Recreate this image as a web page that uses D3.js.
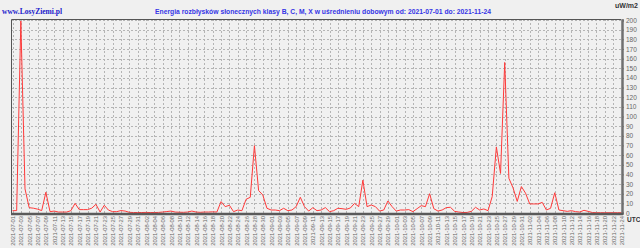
<!DOCTYPE html>
<html>
<head>
<meta charset="utf-8">
<script src="https://cdn.jsdelivr.net/npm/d3@7"></script>
<style>
  body { margin: 0; background: #f0f0f0; }
  svg { display: block; }
</style>
</head>
<body>
<div id="chart"></div>
<script>
// daily averaged flare energy, uW/m2, 2021-07-01 .. 2021-11-24
var startDay = "2021-07-01";
var endDay = "2021-11-24";
var energy = [
  2.4, 2.5, 199, 25, 5.5, 5, 4, 2.5, 21.5, 1.4,
  2, 1, 1, 1, 2.4, 10, 3.5, 3.5, 3.5, 5,
  9, 1, 8, 3, 1.4, 1.4, 2.5, 2, 0.7, 0.5,
  0.5, 0.5, 0.6, 0.5, 0.5, 0.6, 1, 1.5, 2, 1,
  0.8, 0.7, 1, 2, 1, 0.7, 1, 1, 1.2, 1,
  11.8, 6.6, 8, 1.4, 3.1, 2.4, 14.2, 16.3, 69.8, 23.3,
  18.7, 4.9, 3.1, 3.1, 2.4, 4.9, 2.4, 3.1, 6.6, 16.3,
  6.6, 2, 5.5, 2.4, 3.1, 5.6, 1.4, 2.4, 4.9, 4.5,
  3.8, 5.2, 10, 6.6, 34, 6.6, 8.3, 6.6, 2, 3.1,
  12.5, 6.6, 2, 3.1, 3.1, 3.5, 1.4, 4.5, 7.6, 6.6,
  20, 4.5, 2, 3.1, 5.6, 5.9, 1.7, 1, 0.5, 0.6,
  1.7, 5.9, 3.1, 4.2, 2.4, 17, 68.5, 41, 156, 36,
  26, 12, 27.4, 20.5, 9.4, 9.4, 9.4, 11, 3.1, 4.9,
  21, 3.1, 2.4, 1.7, 2.4, 1.4, 1, 2.8, 1.7, 0.5,
  0.3, 0.3, 0.3, 0.3, 0.3, 0.3, 0.3
];
var yTicks = d3.range(0, 201, 10);

var titleText = "Energia rozbłysków słonecznych klasy B, C, M, X w uśrednieniu dobowym od: " + startDay + " do: " + endDay;

var width = 640;
var height = 248;
var plot = { left: 11, right: 621, top: 19, bottom: 213 };

var parse = d3.timeParse("%Y-%m-%d");
var fmt = d3.timeFormat("%Y-%m-%d");
var days = d3.timeDay.range(parse(startDay), d3.timeDay.offset(parse(endDay), 1));
var labelDays = days.filter(function(d, i) { return i % 2 === 0; });

var svg = d3.select("#chart")
  .append("svg")
    .attr("width", width)
    .attr("height", height);

svg.append("rect")
  .attr("width", width)
  .attr("height", height)
  .attr("fill", "#f0f0f0");

var xScale = d3.scaleTime()
  .domain([days[0], days[days.length - 1]])
  .range([plot.left + 1.5, plot.right + 0.5]);

var yScale = d3.scaleLinear()
  .domain([0, 200])
  .range([plot.bottom, plot.top + 1]);

// grid
svg.append("g")
  .selectAll("line")
  .data(yTicks.slice(1))
  .enter().append("line")
    .attr("x1", plot.left)
    .attr("x2", plot.right)
    .attr("y1", function(d) { return Math.round(yScale(d)) + 0.5; })
    .attr("y2", function(d) { return Math.round(yScale(d)) + 0.5; })
    .attr("stroke", "#b4b4b4")
    .attr("stroke-dasharray", "2,2");

svg.append("g")
  .selectAll("line")
  .data(labelDays)
  .enter().append("line")
    .attr("x1", function(d) { return Math.round(xScale(d)) + 0.5; })
    .attr("x2", function(d) { return Math.round(xScale(d)) + 0.5; })
    .attr("y1", plot.top)
    .attr("y2", plot.bottom)
    .attr("stroke", "#b4b4b4")
    .attr("stroke-dasharray", "2,2");

// frame
svg.append("path")
  .attr("d", "M" + (plot.left + 0.5) + "," + plot.bottom + "V" + (plot.top + 0.5) + "H" + plot.right)
  .attr("fill", "none")
  .attr("stroke", "#555")
  .attr("stroke-width", 1);

// data line
var line = d3.line()
  .x(function(d, i) { return xScale(days[i]); })
  .y(function(d) { return yScale(d); });

svg.append("path")
  .datum(energy)
  .attr("fill", "none")
  .attr("stroke", "#ff3a3a")
  .attr("stroke-width", 1)
  .attr("d", line);

// right axis
var yAxis = d3.axisRight(yScale)
  .tickValues(yTicks)
  .tickSize(2)
  .tickPadding(2);

var ya = svg.append("g")
  .attr("transform", "translate(" + (plot.right + 1) + ",0)")
  .call(yAxis);
ya.select(".domain").attr("stroke", "#707070").attr("stroke-width", 2.5);
ya.selectAll(".tick line").attr("stroke", "#707070");
ya.selectAll("text")
  .attr("font-family", "Liberation Sans, Arial, sans-serif")
  .attr("font-size", "6.5px")
  .attr("fill", "#666");

// bottom axis
var xAxis = d3.axisBottom(xScale)
  .tickValues(labelDays)
  .tickFormat(fmt)
  .tickSize(0);

var xa = svg.append("g")
  .attr("transform", "translate(0," + (plot.bottom + 1) + ")")
  .call(xAxis);
xa.select(".domain").attr("stroke", "#5a5a5a").attr("stroke-width", 2.5)
  .attr("d", "M" + plot.left + ",0H" + (plot.right + 2));
xa.selectAll("text")
  .attr("font-family", "Liberation Sans, Arial, sans-serif")
  .attr("font-size", "5.8px")
  .attr("fill", "#666")
  .attr("transform", "rotate(-90)")
  .attr("text-anchor", "end")
  .attr("x", -2)
  .attr("y", 0)
  .attr("dy", "0.35em");

// texts
svg.append("text")
  .attr("x", 2)
  .attr("y", 14)
  .attr("font-family", "Liberation Serif, Times New Roman, serif")
  .attr("font-weight", "bold")
  .attr("font-size", "7.5px")
  .attr("fill", "#1a1acc")
  .text("www.LosyZiemi.pl");

svg.append("text")
  .attr("x", 155)
  .attr("y", 14)
  .attr("font-family", "Liberation Sans, Arial, sans-serif")
  .attr("font-weight", "bold")
  .attr("font-size", "7.5px")
  .attr("fill", "#3535e6")
  .attr("textLength", 336)
  .attr("lengthAdjust", "spacingAndGlyphs")
  .text(titleText);

svg.append("text")
  .attr("x", 638)
  .attr("y", 8)
  .attr("text-anchor", "end")
  .attr("font-family", "Liberation Sans, Arial, sans-serif")
  .attr("font-weight", "bold")
  .attr("font-size", "7px")
  .attr("fill", "#333")
  .text("uW/m2");

svg.append("text")
  .attr("x", 627)
  .attr("y", 222)
  .attr("font-family", "Liberation Sans, Arial, sans-serif")
  .attr("font-weight", "bold")
  .attr("font-size", "6.5px")
  .attr("fill", "#333")
  .text("UTC");
</script>
</body>
</html>
